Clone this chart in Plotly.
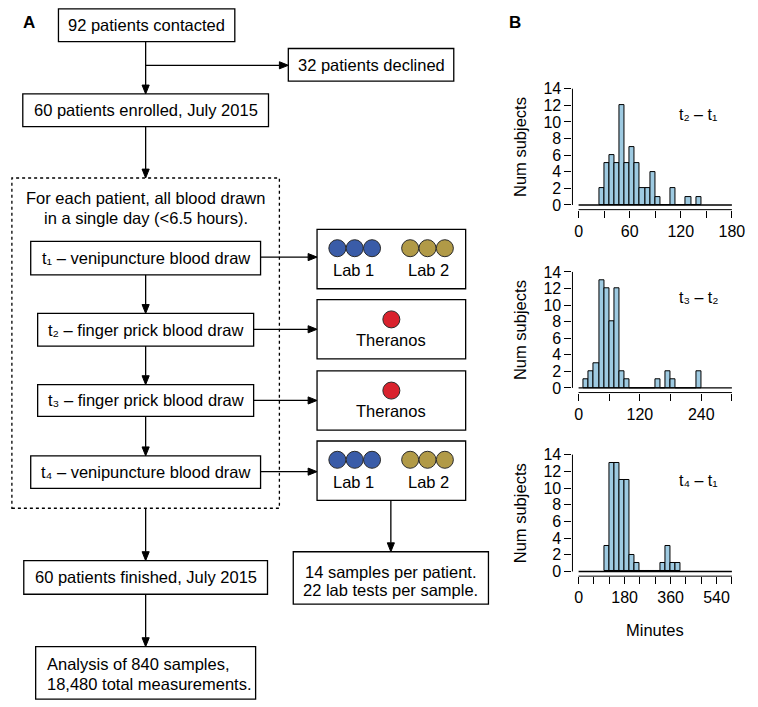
import plotly.graph_objects as go

W, H = 758, 707
FONT = "Liberation Sans, Arial, Helvetica, sans-serif"

# ---------------- Histogram data (panel B) ----------------
h1_bin_start, h1_bin_width = 24, 6
h1_counts = [2, 5, 6, 5, 12, 5, 7, 5, 2, 2, 4, 1, 0, 0, 2, 0, 0, 1, 0, 1]
h1_xmax = 180
h1_labelled_ticks = [0, 60, 120, 180]
h1_minor_step = 30
h1_label = "t₂ – t₁"

h2_bin_start, h2_bin_width = 10, 10
h2_counts = [1, 2, 3, 13, 12, 8, 12, 2, 1, 0, 0, 0, 0, 0, 1, 0, 2, 1, 0, 0, 0, 0, 2]
h2_xmax = 300
h2_labelled_ticks = [0, 120, 240]
h2_minor_step = 60
h2_label = "t₃ – t₂"

h3_bin_start, h3_bin_width = 100, 20
h3_counts = [3, 13, 13, 11, 11, 2, 1, 0, 0, 0, 0, 1, 3, 1, 1]
h3_xmax = 600
h3_labelled_ticks = [0, 180, 360, 540]
h3_minor_step = 60
h3_label = "t₄ – t₁"

y_tickvals = [0, 2, 4, 6, 8, 10, 12, 14]
y_max = 14

BAR_COLOR = "#9ecae1"
BLUE = "#3a5ca8"
GOLD = "#b19a47"
RED = "#d9222d"


def px(x):
    return x / W


def py(y):
    return 1 - y / H


shapes = []
annotations = []


def rect(x0, y0, x1, y1, dash=None):
    ln = dict(color="black", width=1.3)
    if dash:
        ln["dash"] = dash
    shapes.append(dict(type="rect", xref="paper", yref="paper",
                       x0=px(x0), x1=px(x1), y0=py(y1), y1=py(y0), line=ln))


def arrow(x0, y0, x1, y1, hl=9, hw=3.6):
    if x0 == x1:
        s = 1 if y1 > y0 else -1
        bx, by = x1, y1 - s * hl
        pts = [(x1, y1), (bx - hw, by), (bx + hw, by)]
    else:
        s = 1 if x1 > x0 else -1
        bx, by = x1 - s * hl, y1
        pts = [(x1, y1), (bx, by - hw), (bx, by + hw)]
    shapes.append(dict(type="line", xref="paper", yref="paper",
                       x0=px(x0), y0=py(y0), x1=px(bx), y1=py(by),
                       line=dict(color="black", width=1.3)))
    path = "M {} {} L {} {} L {} {} Z".format(*[v for p in pts for v in (px(p[0]), py(p[1]))])
    shapes.append(dict(type="path", xref="paper", yref="paper", path=path,
                       fillcolor="black", line=dict(color="black", width=1)))


def circle(cx, cy, color, r=8.6):
    shapes.append(dict(type="circle", xref="paper", yref="paper",
                       x0=px(cx - r), x1=px(cx + r), y0=py(cy + r), y1=py(cy - r),
                       fillcolor=color, line=dict(color="#2a2a2a", width=1)))


def text(x, y, s, size=16.5, xanchor="center", bold=False, angle=0):
    annotations.append(dict(xref="paper", yref="paper", x=px(x), y=py(y), text=s,
                            showarrow=False, xanchor=xanchor, yanchor="middle",
                            textangle=angle,
                            font=dict(family=FONT, size=size, color="black",
                                      weight="bold" if bold else "normal")))


# ---------------- Panel A flowchart ----------------
text(29, 19, "A", size=17, bold=True)
text(520, 19, "B", size=17, bold=True)

rect(59, 5, 237, 38)
text(148, 21.5, "92 patients contacted")
rect(291, 45, 458, 78)
text(374.5, 61.5, "32 patients declined")
rect(23, 91, 271, 124)
text(147, 107.5, "60 patients enrolled, July 2015")
arrow(147, 38, 147, 91)
arrow(147, 62, 291, 62)
arrow(147, 124, 147, 176)

rect(12, 176, 282, 510, dash="3px,3px")
text(147, 196, "For each patient, all blood drawn")
text(147, 216, "in a single day (<6.5 hours).")

rect(31, 240, 263, 274)
text(147, 257, "t₁ – venipuncture blood draw")
rect(38, 313, 256, 346)
text(147, 329.5, "t₂ – finger prick blood draw")
rect(38, 385, 256, 417)
text(147, 401, "t₃ – finger prick blood draw")
rect(31, 457, 263, 490)
text(147, 473.5, "t₄ – venipuncture blood draw")
arrow(147, 274, 147, 313)
arrow(147, 346, 147, 385)
arrow(147, 417, 147, 457)

arrow(263, 256, 320, 256)
arrow(256, 329, 320, 329)
arrow(256, 401, 320, 401)
arrow(263, 473, 320, 473)

for top, kind in [(228, "labs"), (299, "ther"), (371, "ther"), (442, "labs")]:
    rect(320, top, 470, top + 60)
    if kind == "labs":
        for cx in (340.5, 358, 375.5):
            circle(cx, top + 19, BLUE)
        for cx in (414, 431.5, 449):
            circle(cx, top + 19, GOLD)
        text(357, top + 41, "Lab 1")
        text(432, top + 41, "Lab 2")
    else:
        circle(395, top + 20, RED)
        text(395, top + 41, "Theranos")

arrow(394.5, 502, 394.5, 554)
rect(296, 554, 493, 607)
text(394.5, 575, "14 samples per patient.")
text(394.5, 593, "22 lab tests per sample.")

arrow(147, 510, 147, 563)
rect(24, 563, 270, 597)
text(147, 580, "60 patients finished, July 2015")
arrow(147, 597, 147, 650)
rect(36, 650, 258, 703)
text(45, 668, "Analysis of 840 samples,", xanchor="left")
text(45, 688, "18,480 total measurements.", xanchor="left")

# ---------------- Panel B histograms ----------------
fig = go.Figure()

hists = [
    (h1_bin_start, h1_bin_width, h1_counts, h1_xmax, h1_labelled_ticks, h1_minor_step, h1_label, (81.0, 208.0)),
    (h2_bin_start, h2_bin_width, h2_counts, h2_xmax, h2_labelled_ticks, h2_minor_step, h2_label, (266.3, 393.0)),
    (h3_bin_start, h3_bin_width, h3_counts, h3_xmax, h3_labelled_ticks, h3_minor_step, h3_label, (451.1, 578.7)),
]

x_left, x_right = 577.8, 744.9
layout_axes = {}
for i, (start, bw, counts, xmax, tv, mstep, lab, (ytop, ybot)) in enumerate(hists, start=1):
    xs = [start + bw * (k + 0.5) for k in range(len(counts))]
    xa = "x" if i == 1 else f"x{i}"
    ya = "y" if i == 1 else f"y{i}"
    fig.add_trace(go.Bar(x=xs, y=counts, width=[bw] * len(counts), xaxis=xa, yaxis=ya,
                         marker=dict(color=BAR_COLOR, line=dict(color="black", width=1)),
                         showlegend=False, hoverinfo="x+y"))
    pad = 0.04 * xmax
    layout_axes[f"xaxis{'' if i == 1 else i}"] = dict(
        domain=[px(x_left), px(x_right)], range=[-pad, xmax + pad], anchor=ya,
        showgrid=False, zeroline=False, showline=False,
        ticks="outside", ticklen=7, tickwidth=1, tickcolor="black",
        tickmode="array", tickvals=tv, ticktext=[str(v) for v in tv],
        minor=dict(tickmode="linear", tick0=0, dtick=mstep, ticks="outside", ticklen=7,
                   tickwidth=1, tickcolor="black", showgrid=False),
        tickfont=dict(family=FONT, size=16, color="black"))
    layout_axes[f"yaxis{'' if i == 1 else i}"] = dict(
        domain=[py(ybot), py(ytop)], range=[-0.04 * y_max, y_max * 1.04], anchor=xa,
        showgrid=False, zeroline=False, showline=False,
        ticks="outside", ticklen=7, tickwidth=1, tickcolor="black",
        tickmode="array", tickvals=y_tickvals, ticktext=[str(v) for v in y_tickvals],
        tickfont=dict(family=FONT, size=16, color="black"))
    shapes.append(dict(type="line", xref=xa, yref=ya, x0=0, x1=xmax, y0=0, y1=0,
                       line=dict(color="black", width=1.3)))
    shapes.append(dict(type="line", xref=f"{xa} domain", yref=ya, x0=0, x1=0, y0=0, y1=y_max,
                       line=dict(color="black", width=1)))
    shapes.append(dict(type="line", xref=xa, yref=f"{ya} domain", x0=0, x1=xmax, y0=0, y1=0,
                       line=dict(color="black", width=1)))
    text(525, (ytop + ybot) / 2, "Num subjects", angle=-90)
    text(705, ytop + 31, lab, size=16)

text(661.5, 633, "Minutes")

fig.update_layout(
    width=W, height=H, margin=dict(l=0, r=0, t=0, b=0),
    paper_bgcolor="white", plot_bgcolor="white",
    bargap=0, shapes=shapes, annotations=annotations,
    font=dict(family=FONT, color="black"),
    **layout_axes)

fig.write_html("out.html", config={"displayModeBar": False},
               post_script="document.body.style.margin='0';")
